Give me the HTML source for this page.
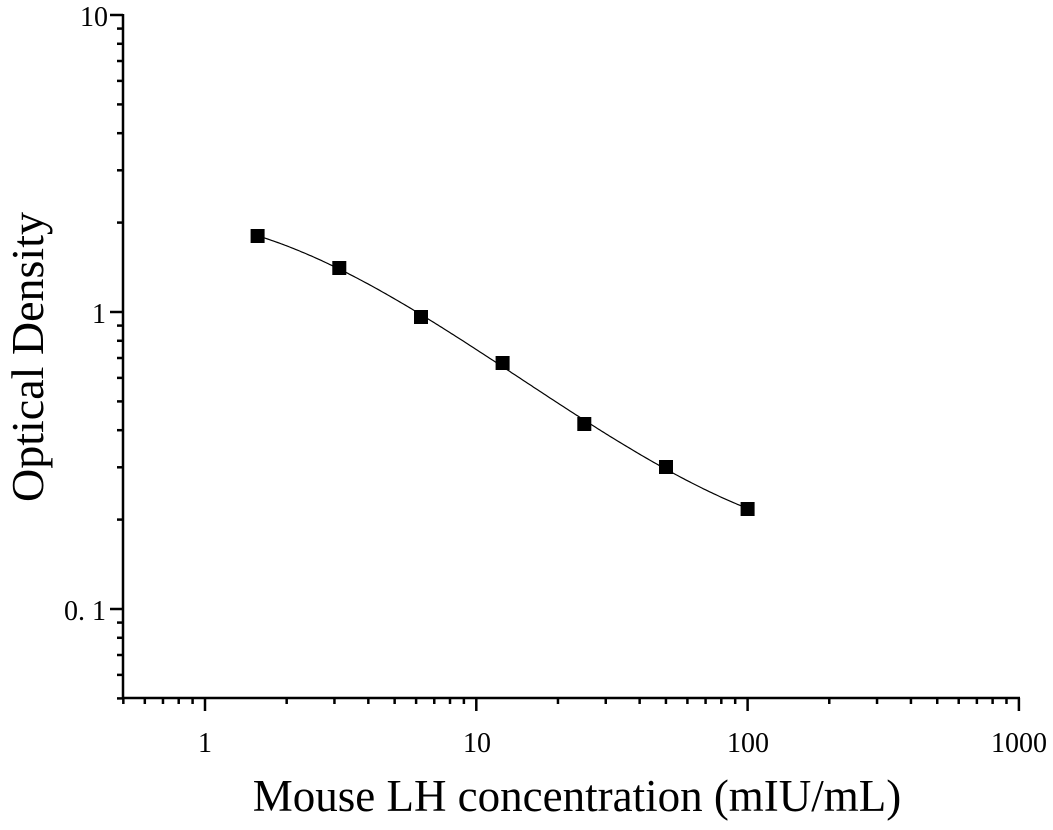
<!DOCTYPE html><html><head><style>body{margin:0;background:#fff}svg{display:block}text{font-family:"Liberation Serif",serif;fill:#000}</style></head><body>
<svg id="s" width="1053" height="830" xmlns="http://www.w3.org/2000/svg">
<g stroke="#000" stroke-width="2.5" fill="none" id="ax">
<line x1="123" y1="14" x2="123" y2="699"/><line x1="122" y1="698" x2="1020" y2="698"/>
</g>
<g font-size="28" text-anchor="end">
<text x="108" y="26">10</text><text x="106" y="323">1</text><text x="106" y="620">0. 1</text>
</g>
<g font-size="28" text-anchor="middle">
<text x="205" y="752">1</text><text x="477" y="752">10</text><text x="748" y="752">100</text><text x="1019" y="752">1000</text>
</g>
<text x="577" y="811" font-size="45" text-anchor="middle">Mouse LH concentration (mIU/mL)</text>
<text transform="translate(43,357) rotate(-90)" font-size="46" text-anchor="middle">Optical Density</text>
<path id="c" fill="none" stroke="#000" stroke-width="1.2"/>
<g id="m"></g>
</svg>
<script>
var ns="http://www.w3.org/2000/svg",ax=document.getElementById('ax');
function L(a,b,c,d){var l=document.createElementNS(ns,'line');l.setAttribute('x1',a);l.setAttribute('y1',b);l.setAttribute('x2',c);l.setAttribute('y2',d);ax.appendChild(l);}
var X0=205,DX=271.3,Y0=312,DY=297;
for(var e=-1;e<=3;e++)for(var k=1;k<10;k++){var v=k*Math.pow(10,e);if(v<0.5||v>1000)continue;var x=X0+Math.log10(v)*DX;L(x,698,x,k==1?711:704);}
for(var e=-2;e<=1;e++)for(var k=1;k<10;k++){var v=k*Math.pow(10,e);if(v<0.05||v>10)continue;var y=Y0-Math.log10(v)*DY;L(123,y,k==1?110:117,y);}
var P=[[257.6,236],[339.3,268],[421,317],[502.6,363],[584.3,424],[666,467],[747.6,509]];
var n=4,A=[],b=[];for(var i=0;i<n;i++){A.push([0,0,0,0]);b.push(0);}
P.forEach(function(p){var t=(p[0]-500)/250;for(var i=0;i<n;i++){for(var j=0;j<n;j++)A[i][j]+=Math.pow(t,i+j);b[i]+=p[1]*Math.pow(t,i);}});
for(var i=0;i<n;i++){for(var r=i+1;r<n;r++){var f=A[r][i]/A[i][i];for(var j=i;j<n;j++)A[r][j]-=f*A[i][j];b[r]-=f*b[i];}}
var c=[0,0,0,0];for(var i=n-1;i>=0;i--){var s=b[i];for(var j=i+1;j<n;j++)s-=A[i][j]*c[j];c[i]=s/A[i][i];}
var d="";for(var x=257.6;x<=747.7;x+=2){var t=(x-500)/250,y=c[0]+c[1]*t+c[2]*t*t+c[3]*t*t*t;d+=(d?"L":"M")+x.toFixed(1)+","+y.toFixed(1);}
document.getElementById('c').setAttribute('d',d);
var m=document.getElementById('m');P.forEach(function(p){var r=document.createElementNS(ns,'rect');r.setAttribute('x',p[0]-7);r.setAttribute('y',p[1]-7);r.setAttribute('width',14);r.setAttribute('height',14);m.appendChild(r);});
</script>
</body></html>
